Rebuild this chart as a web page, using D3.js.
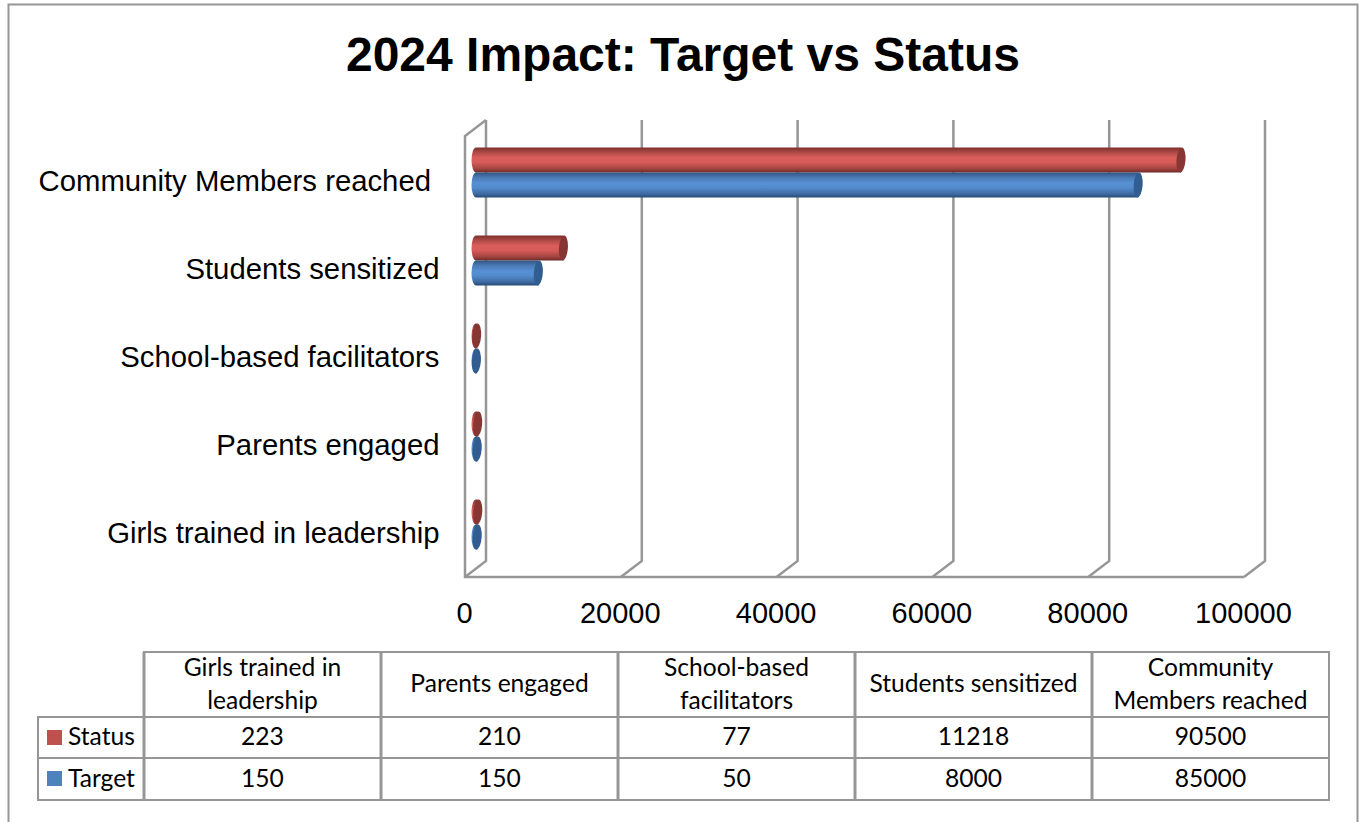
<!DOCTYPE html>
<html>
<head>
<meta charset="utf-8">
<script src="https://cdn.jsdelivr.net/npm/d3@7"></script>
<style>
body { margin: 0; background: #fff; }
svg { display: block; }
.title { font-family: "Liberation Sans", Arial, sans-serif; font-size: 48px; font-weight: bold; text-anchor: middle; }
.cat { font-family: "Liberation Sans", Arial, sans-serif; font-size: 29.3px; fill: #000; }
.tick text { font-family: "Liberation Sans", Arial, sans-serif; font-size: 29px; fill: #000; }
.cell { font-family: Lato, "Open Sans", sans-serif; font-size: 24.6px; fill: #000; text-anchor: middle; }
.wall, .rule { fill: none; stroke: #969696; stroke-width: 2.5; }
.rule { stroke-width: 2; }
.rule.thick { stroke-width: 3; }
</style>
</head>
<body>
<div id="chart"></div>
<script>
const width = 1359, height = 822;

// data
const categories = ["Community Members reached", "Students sensitized", "School-based facilitators", "Parents engaged", "Girls trained in leadership"];
const statusValues = [90500, 11218, 77, 210, 223];
const targetValues = [85000, 8000, 50, 150, 150];
const seriesNames = ["Status", "Target"];
const seriesBase = ["#c0504d", "#4f81bd"];
const xTicks = [0, 20000, 40000, 60000, 80000, 100000];
const tableColumns = [["Girls trained in", "leadership"], ["Parents engaged"], ["School-based", "facilitators"], ["Students sensitized"], ["Community", "Members reached"]];
const tableStatus = ["223", "210", "77", "11218", "90500"];
const tableTarget = ["150", "150", "50", "8000", "85000"];

const depthBack = 10, depthFront = -11;   // offset of the 3d walls from the bar origin

let x = d3.scaleLinear().domain([0, 100000]).range([476, 1255]);
let y = d3.scaleBand().domain(categories).range([128.5, 568.5]);
let ySeries = d3.scaleBand().domain(seriesNames).range([y.bandwidth() / 2 - 25, y.bandwidth() / 2 + 25]);

let svg = d3.select("#chart").append("svg")
    .attr("width", width)
    .attr("height", height);

// gradients for the cylinders
let defs = svg.append("defs");
const gradients = [
    {id: "grad0", stops: ["#7d2f2d", "#b04a47", "#dc5f5b", "#d65a56", "#a34441", "#6e2a28"]},
    {id: "grad1", stops: ["#2f5482", "#4a7ab3", "#5890d6", "#538bcd", "#3f6ca3", "#274a75"]}
];
gradients.forEach(function (g) {
    let lg = defs.append("linearGradient")
        .attr("id", g.id)
        .attr("x1", 0).attr("x2", 0).attr("y1", 0).attr("y2", 1);
    lg.selectAll("stop").data(g.stops).enter().append("stop")
        .attr("offset", (d, i) => [0, 0.2, 0.42, 0.6, 0.85, 1][i])
        .attr("stop-color", d => d);
});
const capColors = ["#873634", "#315d90"];

// outer frame
svg.append("path").attr("class", "rule")
    .attr("d", "M8.5,822V4.5H1357.5V822");

// title
svg.append("text").attr("class", "title").attr("x", 683).attr("y", 71).text("2024 Impact: Target vs Status");

// 3d walls and gridlines
const backTop = 120, backBottom = 561, frontTop = 136, frontBottom = 577;
let walls = svg.append("g");
walls.selectAll("path.grid").data(xTicks).enter().append("path")
    .attr("class", "wall grid")
    .attr("d", d => "M" + (x(d) + depthBack) + "," + backTop + "V" + backBottom + "L" + (x(d) + depthFront) + "," + frontBottom);
walls.append("path").attr("class", "wall")
    .attr("d", "M" + (x(0) + depthBack) + "," + backTop + "L" + (x(0) + depthFront) + "," + frontTop + "V" + frontBottom + "H" + (x(100000) + depthFront));

// x axis labels
let xAxis = d3.axisBottom(x).tickValues(xTicks).tickSize(0).tickPadding(0).tickFormat(d3.format("d"));
svg.append("g")
    .attr("transform", "translate(" + (depthFront - 1) + ",602)")
    .call(xAxis)
    .call(g => g.select(".domain").remove());
svg.selectAll(".tick text").attr("dy", "0.71em");

// category labels
svg.selectAll("text.cat").data(categories).enter().append("text")
    .attr("class", "cat")
    .attr("text-anchor", "end")
    .attr("x", d => d === categories[0] ? 431 : 439.5)
    .attr("y", d => y(d) + y.bandwidth() / 2 + 18)
    .text(d => d);

// cylinders
[statusValues, targetValues].forEach(function (values, s) {
    let bars = svg.append("g").selectAll("g").data(values).enter().append("g")
        .attr("transform", (d, i) => "translate(0," + (y(categories[i]) + ySeries(seriesNames[s])) + ")");
    let h = ySeries.bandwidth(), rx = 4.5;
    bars.append("path")
        .attr("fill", "url(#grad" + s + ")")
        .attr("d", d => "M" + x(0) + ",0H" + x(d) + "V" + h + "H" + x(0) + "A" + rx + "," + (h / 2) + " 0 0 1 " + x(0) + ",0Z");
    bars.append("ellipse")
        .attr("fill", capColors[s])
        .attr("cx", d => x(d))
        .attr("cy", h / 2)
        .attr("rx", rx)
        .attr("ry", h / 2)
        .attr("transform", d => "rotate(4 " + x(d) + " " + (h / 2) + ")");
});

// data table
const colX = [144, 381, 618, 855, 1092, 1329];
const rowY = [652, 717, 758, 800];
const legendX = 38;
let table = svg.append("g");
table.append("path").attr("class", "rule")
    .attr("d", "M" + colX[0] + "," + rowY[1] + "V" + rowY[0] + "H" + colX[5] + "V" + rowY[3] + "H" + legendX + "V" + rowY[1] + "H" + colX[5]);
table.append("path").attr("class", "rule")
    .attr("d", "M" + legendX + "," + rowY[2] + "H" + colX[5]);
colX.slice(0, 5).forEach(function (cx) {
    table.append("path").attr("class", "rule thick")
        .attr("d", "M" + cx + "," + rowY[0] + "V" + rowY[3]);
});
tableColumns.forEach(function (lines, i) {
    let mid = (colX[i] + colX[i + 1]) / 2;
    lines.forEach(function (line, j) {
        table.append("text").attr("class", "cell")
            .attr("x", mid)
            .attr("y", (lines.length === 1 ? 692 : 676 + j * 33))
            .text(line);
    });
    table.append("text").attr("class", "cell").attr("x", mid).attr("y", 745).text(tableStatus[i]);
    table.append("text").attr("class", "cell").attr("x", mid).attr("y", 787).text(tableTarget[i]);
});
seriesNames.forEach(function (name, i) {
    table.append("rect")
        .attr("x", 47).attr("y", 730 + i * 41)
        .attr("width", 15).attr("height", 15)
        .attr("fill", seriesBase[i]);
    table.append("text").attr("class", "cell")
        .style("text-anchor", "start")
        .attr("x", 68).attr("y", 745 + i * 41.5)
        .text(name);
});
</script>
</body>
</html>
